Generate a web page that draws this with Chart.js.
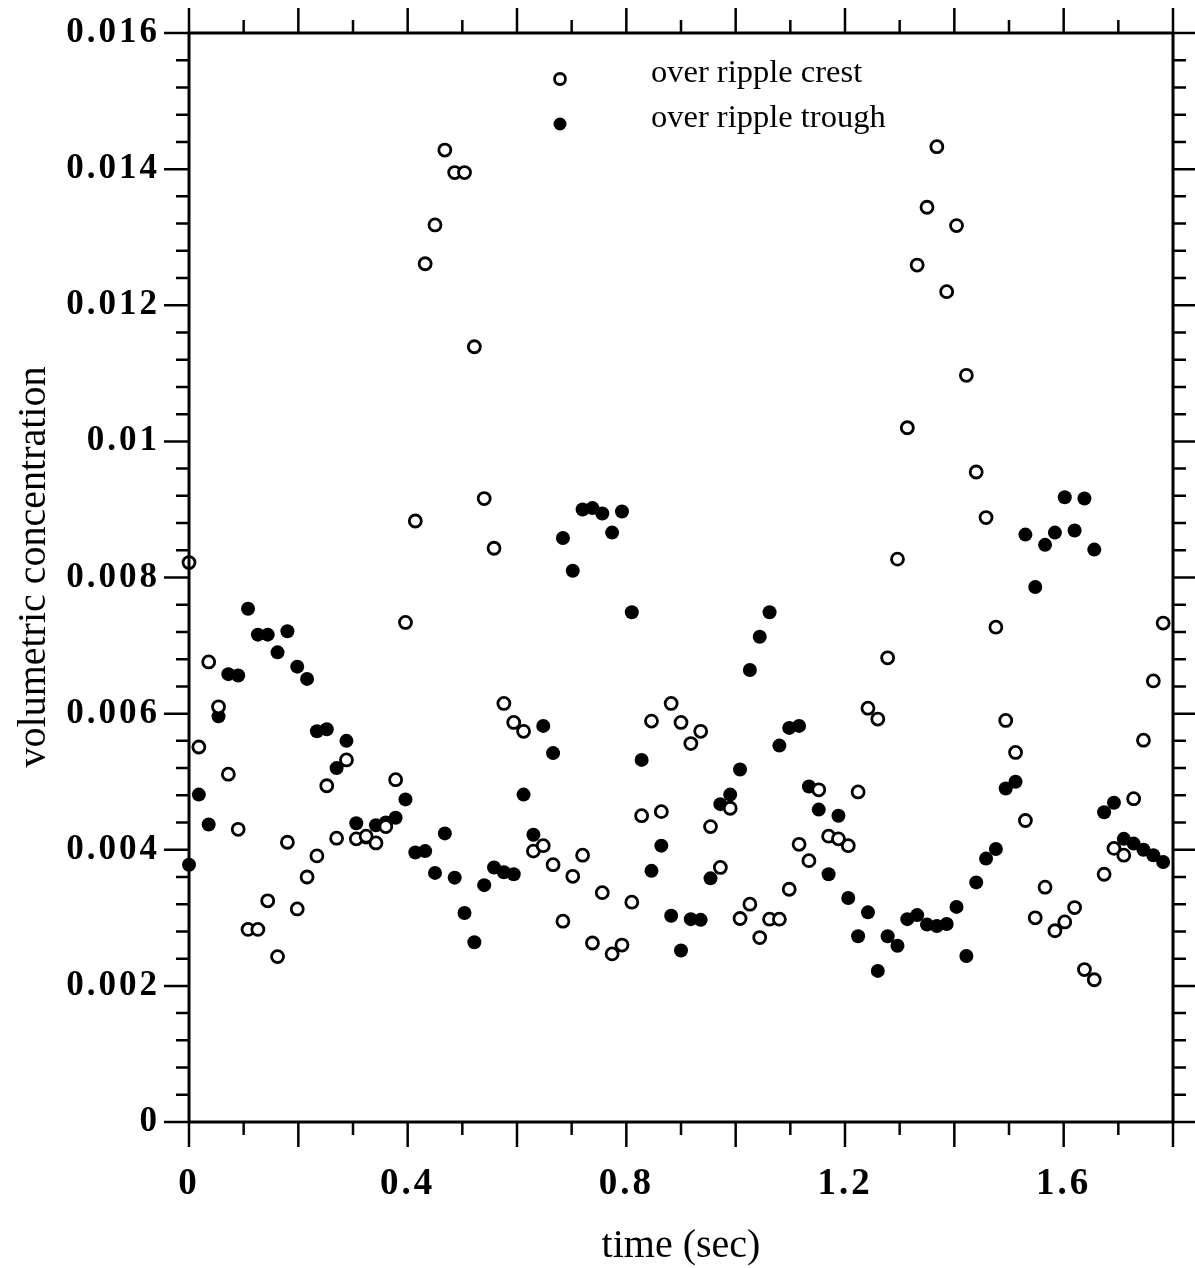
<!DOCTYPE html>
<html>
<head>
<meta charset="utf-8">
<script src="https://cdn.jsdelivr.net/npm/chart.js@4.4.1/dist/chart.umd.min.js"></script>
<style>
  html, body { margin: 0; padding: 0; background: #fff; }
  canvas { display: block; }
</style>
</head>
<body>
<canvas id="chart" width="1195" height="1268"></canvas>
<script>
// sample times (sec), same for both records
const times = [
  0, 0.018, 0.036, 0.054, 0.072, 0.09, 0.108, 0.126, 0.144, 0.162,
  0.18, 0.198, 0.216, 0.234, 0.252, 0.27, 0.288, 0.306, 0.324, 0.342,
  0.36, 0.378, 0.396, 0.414, 0.432, 0.45, 0.468, 0.486, 0.504, 0.522,
  0.54, 0.558, 0.576, 0.594, 0.612, 0.63, 0.648, 0.666, 0.684, 0.702,
  0.72, 0.738, 0.756, 0.774, 0.792, 0.81, 0.828, 0.846, 0.864, 0.882,
  0.9, 0.918, 0.936, 0.954, 0.972, 0.99, 1.008, 1.026, 1.044, 1.062,
  1.08, 1.098, 1.116, 1.134, 1.152, 1.17, 1.188, 1.206, 1.224, 1.242,
  1.26, 1.278, 1.296, 1.314, 1.332, 1.35, 1.368, 1.386, 1.404, 1.422,
  1.44, 1.458, 1.476, 1.494, 1.512, 1.53, 1.548, 1.566, 1.584, 1.602,
  1.62, 1.638, 1.656, 1.674, 1.692, 1.71, 1.728, 1.746, 1.764, 1.782
];

// volumetric concentration over ripple crest (open circles)
const crest = [
  0.00822, 0.00551, 0.00676, 0.00610, 0.00511, 0.00430, 0.00283, 0.00283, 0.00325, 0.00243,
  0.00411, 0.00313, 0.00360, 0.00391, 0.00494, 0.00417, 0.00532, 0.00416, 0.00420, 0.00410,
  0.00434, 0.00503, 0.00734, 0.00883, 0.01261, 0.01318, 0.01428, 0.01395, 0.01395, 0.01139,
  0.00916, 0.00843, 0.00615, 0.00587, 0.00574, 0.00398, 0.00406, 0.00378, 0.00295, 0.00361,
  0.00392, 0.00263, 0.00337, 0.00247, 0.00260, 0.00323, 0.00450, 0.00589, 0.00456, 0.00615,
  0.00587, 0.00556, 0.00574, 0.00434, 0.00374, 0.00461, 0.00299, 0.00320, 0.00271, 0.00298,
  0.00298, 0.00342, 0.00408, 0.00384, 0.00488, 0.00420, 0.00416, 0.00406, 0.00485, 0.00608,
  0.00592, 0.00682, 0.00827, 0.01020, 0.01259, 0.01344, 0.01433, 0.01220, 0.01317, 0.01097,
  0.00955, 0.00888, 0.00727, 0.00590, 0.00543, 0.00443, 0.00300, 0.00345, 0.00281, 0.00294,
  0.00315, 0.00224, 0.00209, 0.00364, 0.00402, 0.00392, 0.00475, 0.00561, 0.00648, 0.00733
];

// volumetric concentration over ripple trough (filled circles)
const trough = [
  0.00378, 0.00481, 0.00437, 0.00596, 0.00658, 0.00656, 0.00754, 0.00716, 0.00716, 0.00690,
  0.00721, 0.00669, 0.00651, 0.00574, 0.00577, 0.00520, 0.00560, 0.00439, 0.00418, 0.00436,
  0.00440, 0.00447, 0.00474, 0.00396, 0.00398, 0.00366, 0.00424, 0.00359, 0.00307, 0.00264,
  0.00348, 0.00374, 0.00367, 0.00364, 0.00481, 0.00422, 0.00582, 0.00542, 0.00858, 0.00810,
  0.00900, 0.00902, 0.00894, 0.00866, 0.00897, 0.00749, 0.00532, 0.00369, 0.00406, 0.00303,
  0.00252, 0.00298, 0.00297, 0.00358, 0.00467, 0.00481, 0.00518, 0.00664, 0.00713, 0.00749,
  0.00553, 0.00579, 0.00582, 0.00493, 0.00459, 0.00364, 0.00450, 0.00329, 0.00273, 0.00308,
  0.00222, 0.00273, 0.00259, 0.00298, 0.00304, 0.00290, 0.00288, 0.00291, 0.00316, 0.00244,
  0.00352, 0.00387, 0.00401, 0.00490, 0.00500, 0.00863, 0.00786, 0.00848, 0.00866, 0.00918,
  0.00869, 0.00916, 0.00841, 0.00455, 0.00469, 0.00416, 0.00409, 0.00400, 0.00392, 0.00382
];

const seriesNames = ['over ripple crest', 'over ripple trough'];

const xTicks = [0, 0.4, 0.8, 1.2, 1.6];
const xTickLabels = ['0', '0.4', '0.8', '1.2', '1.6'];
const yTicks = [0, 0.002, 0.004, 0.006, 0.008, 0.01, 0.012, 0.014, 0.016];
const yTickLabels = ['0', '0.002', '0.004', '0.006', '0.008', '0.01', '0.012', '0.014', '0.016'];

const ink = '#000';
const serif = '"Liberation Serif", "Times New Roman", serif';

function toPoints(values) {
  return values.map((v, i) => ({ x: times[i], y: v }));
}

// frame, tick marks on all four sides, axis titles and legend
const framePlugin = {
  id: 'frame',
  beforeDraw(chart) {
    chart.ctx.letterSpacing = '3px';
  },
  beforeDatasetsDraw(chart) {
    chart.ctx.letterSpacing = '0px';
  },
  afterDraw(chart) {
    const ctx = chart.ctx;
    const { left, right, top, bottom } = chart.chartArea;
    const xs = chart.scales.x;
    const ys = chart.scales.y;
    ctx.save();
    ctx.letterSpacing = '0px';
    ctx.strokeStyle = ink;
    ctx.lineWidth = 3;
    ctx.strokeRect(left, top, right - left, bottom - top);

    ctx.lineWidth = 2.5;
    ctx.beginPath();
    // x ticks every 0.1, long every 0.2
    for (let k = 0; k <= 18; k++) {
      const px = xs.getPixelForValue(k / 10);
      const len = k % 2 === 0 ? 25 : 13;
      ctx.moveTo(px, bottom); ctx.lineTo(px, bottom + len);
      ctx.moveTo(px, top); ctx.lineTo(px, top - len);
    }
    // y ticks every 0.0004, long every 0.002
    for (let k = 0; k <= 40; k++) {
      const py = ys.getPixelForValue(k * 0.0004);
      const len = k % 5 === 0 ? 25 : 13;
      ctx.moveTo(left, py); ctx.lineTo(left - len, py);
      ctx.moveTo(right, py); ctx.lineTo(right + len, py);
    }
    ctx.stroke();

    // axis titles
    ctx.fillStyle = ink;
    ctx.font = '40px ' + serif;
    ctx.textAlign = 'center';
    ctx.textBaseline = 'alphabetic';
    ctx.fillText('time (sec)', (left + right) / 2, 1257);
    ctx.save();
    ctx.translate(45, 567);
    ctx.rotate(-Math.PI / 2);
    ctx.fillText('volumetric concentration', 0, 0);
    ctx.restore();

    // legend
    ctx.font = '32.5px ' + serif;
    ctx.textAlign = 'left';
    chart.data.datasets.forEach((ds, i) => {
      const cy = 79 + i * 45;
      ctx.beginPath();
      ctx.arc(560, cy, ds.pointRadius - 0.5, 0, Math.PI * 2);
      ctx.fillStyle = ds.backgroundColor;
      ctx.fill();
      if (ds.borderWidth) {
        ctx.lineWidth = ds.borderWidth;
        ctx.strokeStyle = ds.borderColor;
        ctx.stroke();
      }
      ctx.fillStyle = ink;
      ctx.fillText(ds.label, 651, cy + 3);
    });
    ctx.restore();
  }
};

new Chart(document.getElementById('chart'), {
  type: 'scatter',
  data: {
    datasets: [
      {
        label: seriesNames[0],
        data: toPoints(crest),
        pointRadius: 6,
        pointHoverRadius: 6,
        borderWidth: 2.8,
        borderColor: ink,
        backgroundColor: '#fff',
        clip: false
      },
      {
        label: seriesNames[1],
        data: toPoints(trough),
        pointRadius: 7,
        pointHoverRadius: 7,
        borderWidth: 0,
        borderColor: ink,
        backgroundColor: ink,
        clip: false
      }
    ]
  },
  options: {
    responsive: false,
    animation: false,
    devicePixelRatio: 1,
    layout: { padding: { top: 33, right: 22, left: 0, bottom: 0 } },
    plugins: {
      legend: { display: false },
      tooltip: { enabled: false }
    },
    scales: {
      x: {
        type: 'linear',
        min: 0,
        max: 1.8,
        grid: { display: false, drawTicks: false },
        border: { display: false },
        afterBuildTicks: (scale) => { scale.ticks = xTicks.map(v => ({ value: v })); },
        afterFit: (scale) => {
          scale.height = 146;
          scale.paddingLeft = 0;
          scale.paddingRight = 0;
        },
        ticks: {
          padding: 40,
          maxRotation: 0,
          color: ink,
          font: { family: serif, size: 37, weight: 'bold' },
          callback: (v, i) => xTickLabels[i]
        }
      },
      y: {
        min: 0,
        max: 0.016,
        grid: { display: false, drawTicks: false },
        border: { display: false },
        afterBuildTicks: (scale) => { scale.ticks = yTicks.map(v => ({ value: v })); },
        afterFit: (scale) => {
          scale.width = 189;
          scale.paddingTop = 0;
          scale.paddingBottom = 0;
        },
        ticks: {
          padding: 29,
          color: ink,
          font: { family: serif, size: 35, weight: 'bold' },
          callback: (v, i) => yTickLabels[i]
        }
      }
    }
  },
  plugins: [framePlugin]
});
</script>
</body>
</html>
